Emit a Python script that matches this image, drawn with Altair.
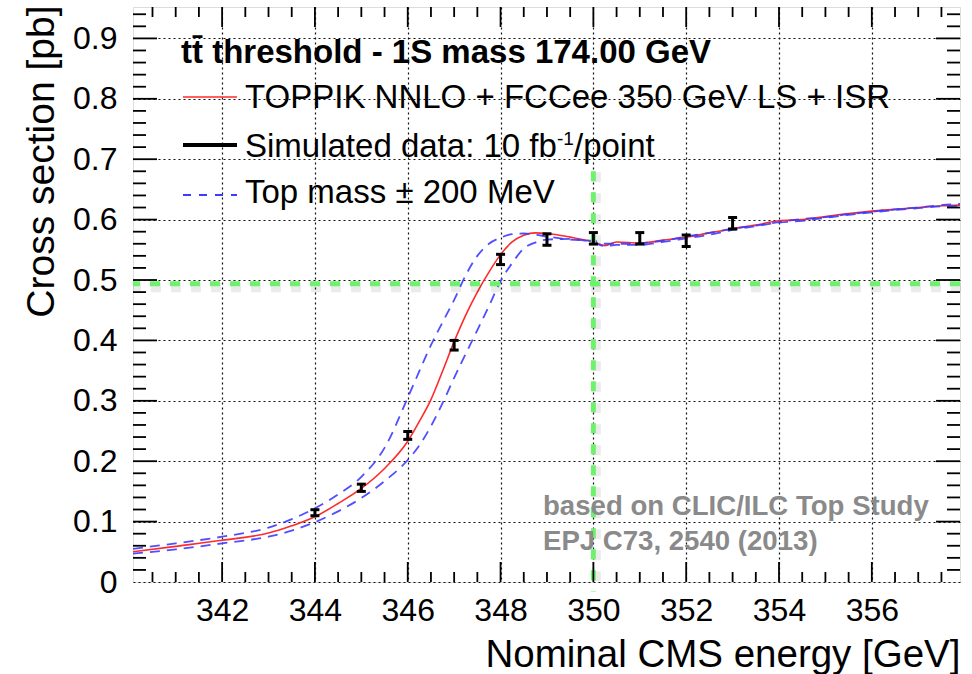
import altair as alt
import pandas as pd

FONT = "Liberation Sans"
W, H = 827, 575
X_DOMAIN = [340.08, 357.9]
Y_DOMAIN = [0.0, 0.952]

# ---- theory curves ----
energy = [340.08, 341, 342, 343, 343.5, 344, 344.5, 345, 345.5, 346, 346.25, 346.5,
          346.75, 347, 347.25, 347.5, 347.75, 348, 348.25, 348.5, 348.75, 349, 349.5,
          350, 350.25, 350.5, 351, 351.5, 352, 352.5, 353, 353.5, 354, 354.5, 355,
          355.5, 356, 356.5, 357, 357.5, 357.9]
xsec_nominal = [0.050, 0.059, 0.069, 0.081, 0.093, 0.108, 0.130, 0.155, 0.188, 0.233,
                0.266, 0.302, 0.349, 0.398, 0.442, 0.480, 0.513, 0.542, 0.563, 0.574,
                0.578, 0.577, 0.571, 0.563, 0.557, 0.563, 0.561, 0.566, 0.571, 0.578,
                0.585, 0.591, 0.598, 0.600, 0.605, 0.610, 0.614, 0.617, 0.620, 0.623,
                0.624]
xsec_mass_lo = [0.055, 0.064, 0.075, 0.090, 0.104, 0.122, 0.145, 0.174, 0.222, 0.305,
                0.349, 0.392, 0.430, 0.467, 0.508, 0.540, 0.560, 0.570, 0.576, 0.577,
                0.575, 0.572, 0.567, 0.565, 0.560, 0.560, 0.561, 0.565, 0.572, 0.578,
                0.585, 0.590, 0.596, 0.601, 0.604, 0.609, 0.613, 0.617, 0.620, 0.624,
                0.626]
xsec_mass_hi = [0.047, 0.054, 0.064, 0.075, 0.085, 0.099, 0.117, 0.139, 0.167, 0.202,
                0.226, 0.258, 0.296, 0.338, 0.378, 0.417, 0.457, 0.498, 0.528, 0.552,
                0.562, 0.567, 0.568, 0.562, 0.556, 0.558, 0.558, 0.563, 0.569, 0.575,
                0.583, 0.589, 0.595, 0.598, 0.603, 0.608, 0.612, 0.616, 0.619, 0.622,
                0.623]

# ---- simulated data points ----
data_energy = [344, 345, 346, 347, 348, 349, 350, 351, 352, 353]
data_xsec = [0.1147, 0.156, 0.2427, 0.392, 0.534, 0.567, 0.569, 0.569, 0.565, 0.594]
data_err = [0.005, 0.006, 0.0065, 0.008, 0.0085, 0.0095, 0.0095, 0.0095, 0.0095, 0.0095]

# ---- reference lines ----
hline_value = [0.494]
vline_energy = [350.0]
vline_span = [0.68, -0.016]

# ---- axis ticks ----
x_major = [342, 344, 346, 348, 350, 352, 354, 356]
y_major = [0.0, 0.1, 0.2, 0.3, 0.4, 0.5, 0.6, 0.7, 0.8, 0.9]
x_minor = [340 + 0.5 * i for i in range(1, 36) if (340 + 0.5 * i) not in x_major]
y_minor = [round(0.02 * i, 2) for i in range(1, 48) if i % 5 != 0]

curves = pd.DataFrame({"E": energy, "nom": xsec_nominal, "lo": xsec_mass_lo, "hi": xsec_mass_hi})
pts = pd.DataFrame({"E": data_energy, "s": data_xsec, "err": data_err})
pts["low"] = pts["s"] - pts["err"]
pts["high"] = pts["s"] + pts["err"]

xscale = alt.Scale(domain=X_DOMAIN, nice=False, zero=False)
yscale = alt.Scale(domain=Y_DOMAIN, nice=False, zero=False)

xaxis = alt.Axis(values=x_major, format="d", labelFont=FONT, labelFontSize=32,
                 labelColor="black", labelPadding=13, labelFlush=False, labelOverlap=False,
                 ticks=False, domain=False, grid=True, gridColor="#111", gridDash=[2, 3],
                 gridWidth=1.2, gridOpacity=1,
                 title="Nominal CMS energy [GeV]", titleFont=FONT, titleFontSize=38.5,
                 titleFontWeight="normal", titleColor="black", titleX=W, titleY=84,
                 titleAlign="right", titleBaseline="alphabetic")
yaxis = alt.Axis(values=y_major, format=".1~f", labelFont=FONT, labelFontSize=32,
                 labelColor="black", labelPadding=16, labelFlush=False, labelOverlap=False,
                 ticks=False, domain=False, grid=True, gridColor="#111", gridDash=[2, 3],
                 gridWidth=1.2, gridOpacity=1,
                 title="Cross section [pb]", titleFont=FONT, titleFontSize=39,
                 titleFontWeight="normal", titleColor="black", titleX=-80, titleY=-2,
                 titleAngle=270, titleAlign="right", titleBaseline="alphabetic")


def X(field):
    return alt.X(field, type="quantitative", scale=xscale, axis=xaxis)


def Y(field):
    return alt.Y(field, type="quantitative", scale=yscale, axis=yaxis)


layers = []

# theory curves
layers.append(alt.Chart(curves).mark_line(color="#ff2a2a", strokeWidth=1.6, interpolate="monotone")
              .encode(x=X("E"), y=Y("nom")))
for col in ["lo", "hi"]:
    layers.append(alt.Chart(curves).mark_line(color="#3c3cff", strokeWidth=1.8,
                                              strokeDash=[10, 7], opacity=0.9,
                                              interpolate="monotone")
                  .encode(x=X("E"), y=Y(col)))

# green reference lines with soft shadow
hdf = pd.DataFrame({"v": hline_value})
vdf = pd.DataFrame({"E": vline_energy, "y1": [vline_span[0]], "y2": [vline_span[1]]})
layers.append(alt.Chart(hdf).mark_rule(color="black", opacity=0.08, strokeWidth=9,
                                       strokeDash=[10, 10], yOffset=4, xOffset=1)
              .encode(y=Y("v")))
layers.append(alt.Chart(vdf).mark_rule(color="black", opacity=0.08, strokeWidth=9,
                                       strokeDash=[10, 11], xOffset=3, yOffset=1)
              .encode(x=X("E"), y=Y("y1"), y2="y2:Q"))
layers.append(alt.Chart(hdf).mark_rule(color="#6ef26e", strokeWidth=5, strokeDash=[10, 10])
              .encode(y=Y("v")))
layers.append(alt.Chart(vdf).mark_rule(color="#6ef26e", strokeWidth=5, strokeDash=[10, 11])
              .encode(x=X("E"), y=Y("y1"), y2="y2:Q"))

# data points with error bars
layers.append(alt.Chart(pts).mark_rule(color="black", strokeWidth=3)
              .encode(x=X("E"), y=Y("low"), y2="high:Q"))
for col in ["low", "high"]:
    layers.append(alt.Chart(pts).mark_tick(color="black", orient="horizontal", size=9,
                                           thickness=3, opacity=1)
                  .encode(x=X("E"), y=Y(col)))

# inward ticks on all four sides
xmaj = pd.DataFrame({"t": x_major})
xmin = pd.DataFrame({"t": x_minor})
ymaj = pd.DataFrame({"t": [v for v in y_major if v > 0]})
ymin = pd.DataFrame({"t": y_minor})
TW = 1.8
for df_, ln in [(xmaj, 20), (xmin, 10)]:
    layers.append(alt.Chart(df_).mark_rule(color="black", strokeWidth=TW)
                  .encode(x=X("t"), y=alt.value(H), y2=alt.value(H - ln)))
    layers.append(alt.Chart(df_).mark_rule(color="black", strokeWidth=TW)
                  .encode(x=X("t"), y=alt.value(0), y2=alt.value(ln)))
for df_, ln in [(ymaj, 24), (ymin, 13)]:
    layers.append(alt.Chart(df_).mark_rule(color="black", strokeWidth=TW)
                  .encode(y=Y("t"), x=alt.value(0), x2=alt.value(ln)))
    layers.append(alt.Chart(df_).mark_rule(color="black", strokeWidth=TW)
                  .encode(y=Y("t"), x=alt.value(W), x2=alt.value(W - ln)))

# legend
dummy = pd.DataFrame({"k": [0]})


def label(s, x, y, size, weight="normal", color="black"):
    return (alt.Chart(dummy)
            .mark_text(font=FONT, fontSize=size, fontWeight=weight, color=color,
                       align="left", baseline="alphabetic")
            .encode(x=alt.value(x), y=alt.value(y), text=alt.value(s)))


layers.append(label("tt\u0304 threshold - 1S mass 174.00 GeV", 48, 56, 33, "bold"))
layers.append(alt.Chart(dummy).mark_rule(color="#ff2a2a", strokeWidth=1.6)
              .encode(x=alt.value(50), x2=alt.value(104), y=alt.value(90)))
layers.append(label("TOPPIK NNLO + FCCee 350 GeV LS + ISR", 112, 101, 33))
layers.append(alt.Chart(dummy).mark_rule(color="black", strokeWidth=4)
              .encode(x=alt.value(50), x2=alt.value(104), y=alt.value(138)))
layers.append(label("Simulated data: 10 fb", 112, 150, 33))
layers.append(label("-1", 424, 138, 19))
layers.append(label("/point", 441, 150, 33))
layers.append(alt.Chart(dummy).mark_rule(color="#3c3cff", strokeWidth=1.8, strokeDash=[8, 8])
              .encode(x=alt.value(50), x2=alt.value(104), y=alt.value(188)))
layers.append(label("Top mass \u00b1 200 MeV", 112, 196, 33))

# study reference annotation
layers.append(label("based on CLIC/ILC Top Study", 410, 508, 27.6, "bold", "#8a8a8a"))
layers.append(label("EPJ C73, 2540 (2013)", 410, 543, 27.6, "bold", "#8a8a8a"))

chart = (alt.layer(*layers)
         .properties(width=W, height=H, autosize=alt.AutoSizeParams(type="none"),
                     padding={"left": 133, "top": 7, "right": 12, "bottom": 92})
         .configure_view(stroke="black", strokeWidth=2)
         .configure(background="white"))

chart.save("out.html", embed_options={"renderer": "svg", "actions": False})
